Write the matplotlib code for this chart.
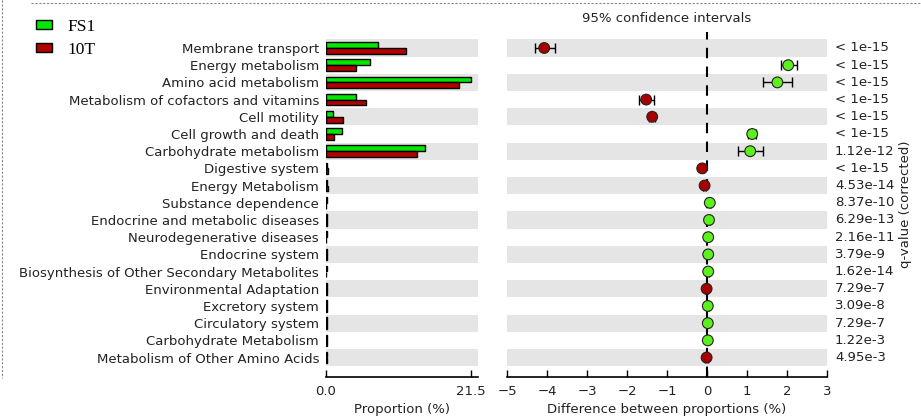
import matplotlib
matplotlib.use("Agg")
import matplotlib.pyplot as plt
from matplotlib.lines import Line2D
from matplotlib.patches import Patch
import numpy as np

# data (STAMP extended error bar plot)
categories = ["Membrane transport", "Energy metabolism", "Amino acid metabolism",
              "Metabolism of cofactors and vitamins", "Cell motility", "Cell growth and death",
              "Carbohydrate metabolism", "Digestive system", "Energy Metabolism",
              "Substance dependence", "Endocrine and metabolic diseases",
              "Neurodegenerative diseases", "Endocrine system",
              "Biosynthesis of Other Secondary Metabolites", "Environmental Adaptation",
              "Excretory system", "Circulatory system", "Carbohydrate Metabolism",
              "Metabolism of Other Amino Acids"]
fs1 = [7.8, 6.5, 21.5, 4.4, 1.1, 2.4, 14.7, 0.12, 0.18, 0.12, 0.16, 0.1, 0.2, 0.1, 0.14, 0.1, 0.16, 0.1, 0.2]
t10 = [11.9, 4.5, 19.8, 5.9, 2.5, 1.2, 13.6, 0.25, 0.24, 0.05, 0.1, 0.07, 0.17, 0.07, 0.15, 0.08, 0.14, 0.08, 0.21]
diff = [-4.07, 2.03, 1.76, -1.52, -1.37, 1.13, 1.08, -0.12, -0.06, 0.07, 0.05, 0.03, 0.03, 0.03, -0.01, 0.02, 0.02, 0.02, -0.01]
ci_lo = [-4.3, 1.85, 1.41, -1.7, -1.45, 1.03, 0.78, -0.16, -0.09, 0.04, 0.02, 0.0, 0.0, 0.0, -0.04, -0.01, -0.01, -0.01, -0.04]
ci_hi = [-3.8, 2.25, 2.13, -1.33, -1.29, 1.23, 1.39, -0.08, -0.03, 0.1, 0.08, 0.06, 0.06, 0.06, 0.02, 0.05, 0.05, 0.05, 0.02]
qvals = ["< 1e-15", "< 1e-15", "< 1e-15", "< 1e-15", "< 1e-15", "< 1e-15", "1.12e-12",
         "< 1e-15", "4.53e-14", "8.37e-10", "6.29e-13", "2.16e-11", "3.79e-9", "1.62e-14",
         "7.29e-7", "3.09e-8", "7.29e-7", "1.22e-3", "4.95e-3"]
groups = ["FS1", "10T"]

green = "#00e800"
red = "#b00000"
mgreen = "#5cf01c"
mred = "#a80000"
stripe = "#e5e5e5"
txt = "#222222"
fs = 9.5

n = len(categories)
y = np.arange(n)[::-1]

fig = plt.figure(figsize=(9.21, 4.16), dpi=100)
W, H = 921, 416
ax1 = fig.add_axes([326 / W, 1 - 377 / H, 152 / W, 345 / H])
ax2 = fig.add_axes([507 / W, 1 - 377 / H, 320 / W, 345 / H])

for ax in (ax1, ax2):
    for i, yy in enumerate(y):
        if i % 2 == 0:
            ax.axhspan(yy - 0.5, yy + 0.5, color=stripe, lw=0, zorder=0)
    ax.set_ylim(-1.13, n - 1 + 0.93)
    for s in ("top", "right", "left"):
        ax.spines[s].set_visible(False)
    ax.spines["bottom"].set_linewidth(1.2)
    ax.tick_params(axis="x", direction="in", length=5, width=1, labelsize=fs,
                   labelcolor=txt, pad=6)

# left: proportions
bh = 0.33
ax1.barh(y + 0.17, fs1, height=bh, color=green, edgecolor="black", lw=1, zorder=2)
ax1.barh(y - 0.17, t10, height=bh, color=red, edgecolor="black", lw=1, zorder=2)
ax1.set_xlim(0, 22.6)
ax1.set_xticks([0, 21.5])
ax1.set_xticklabels(["0.0", "21.5"])
ax1.set_yticks(y)
ax1.set_yticklabels(categories, fontsize=fs, color=txt)
ax1.tick_params(axis="y", length=0, pad=5)
ax1.set_xlabel("Proportion (%)", fontsize=fs, color=txt, labelpad=3)

# right: differences with 95% CI
d = np.array(diff)
lo = d - np.array(ci_lo)
hi = np.array(ci_hi) - d
ax2.axvline(0, color="black", ls=(0, (5, 4)), lw=1.5, zorder=1)
ax2.errorbar(d, y, xerr=[lo, hi], fmt="none", ecolor="black", elinewidth=1,
             capsize=3.5, capthick=1, zorder=3)
cols = [mgreen if v > 0 else mred for v in diff]
ax2.scatter(d, y, s=60, c=cols, edgecolors="#222222", linewidths=0.8, zorder=4)
ax2.set_xlim(-5, 3)
ax2.set_xticks(range(-5, 4))
ax2.set_yticks([])
ax2.set_xlabel("Difference between proportions (%)", fontsize=fs, color=txt, labelpad=3)
ax2.set_title("95% confidence intervals", fontsize=fs, color=txt, pad=7)

for yy, q in zip(y, qvals):
    ax2.text(3.2, yy, q, fontsize=fs, color=txt, va="center", ha="left", clip_on=False)
ax2.text(1.245, 0.5, "q-value (corrected)", transform=ax2.transAxes, rotation=90,
         fontsize=fs, color=txt, ha="center", va="center")

# legend
handles = [Patch(facecolor=green, edgecolor="black", lw=1),
           Patch(facecolor=red, edgecolor="black", lw=1)]
fig.legend(handles, groups, loc="upper left", bbox_to_anchor=(36 / W, 1 - 19 / H),
           frameon=False, prop={"family": ["Liberation Serif", "DejaVu Serif"], "size": 12.5},
           handlelength=0.95, handleheight=0.4, labelspacing=0.4, handletextpad=0.85,
           borderpad=0, borderaxespad=0)

# dotted frame fragments of the original export
fig.add_artist(Line2D([31 / W, 1], [1 - 3 / H, 1 - 3 / H], transform=fig.transFigure,
                      color="#888888", ls=(0, (2, 1.5)), lw=0.8))
fig.add_artist(Line2D([1.5 / W, 1.5 / W], [1, 1 - 378 / H], transform=fig.transFigure,
                      color="#888888", ls=(0, (2, 1.5)), lw=0.8))

fig.savefig("out.png", dpi=100)
